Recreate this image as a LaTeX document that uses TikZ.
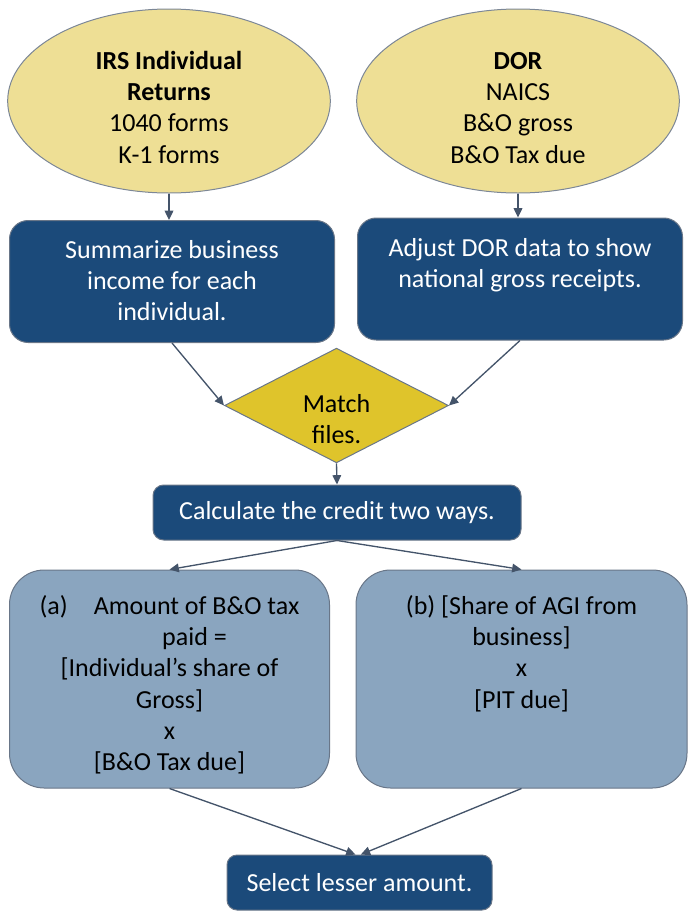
\documentclass[tikz,border=0pt]{standalone}
\usepackage{fontspec}
\setmainfont{Carlito}
\usetikzlibrary{shapes.geometric,arrows.meta}
\definecolor{srcfill}{HTML}{EEDF95}
\definecolor{stepfill}{HTML}{1B4A7A}
\definecolor{matchfill}{HTML}{DFC42B}
\definecolor{wayfill}{HTML}{8AA5BF}
\definecolor{edgegray}{HTML}{44546A}
\newcommand{\toptext}[4]{\parbox[c][#1][t]{#2}{\centering\rule{0pt}{#3}#4}}
\tikzstyle{every node}=[font=\fontsize{19.5}{23.4}\selectfont, align=center, inner sep=0pt]
\tikzset{source/.style={ellipse, draw=edgegray!70, line width=0.75pt, fill=srcfill,
      inner ysep=-5pt, minimum width=242pt, minimum height=138pt}}
\tikzset{stepbox/.style={rectangle, draw=edgegray!80, line width=0.75pt, fill=stepfill, text=white}}
\tikzset{waybox/.style={rectangle, draw=edgegray!80, line width=0.75pt, fill=wayfill, rounded corners=26pt}}
\tikzset{matchbox/.style={diamond, draw=edgegray!80, line width=0.75pt, fill=matchfill,
      minimum width=168pt, minimum height=86pt}}
\tikzset{flow/.style={-{Triangle[length=7pt,width=6.5pt]}, draw=edgegray, line width=1pt}}

\begin{document}
\begin{tikzpicture}[x=0.75pt,y=-0.75pt]
    \useasboundingbox (0,0) rectangle (689,911);

    \node[source] (irs) at (169,101)
      {\rule{0pt}{23pt}\textbf{IRS Individual}\\\textbf{Returns}\\1040 forms\\K-1 forms};
    \node[source] (dor) at (518,101)
      {\rule{0pt}{23pt}\textbf{DOR}\\NAICS\\B\&O gross\\B\&O Tax due};

    \node[stepbox, rounded corners=14pt] (summ) at (172,281.5)
      {\toptext{91.5pt}{243.75pt}{28.5pt}{Summarize business\\income for each\\individual.}};
    \node[stepbox, rounded corners=14pt] (adj) at (520,279)
      {\toptext{91.5pt}{243.75pt}{28.5pt}{Adjust DOR data to show\\national gross receipts.}};

    \node[matchbox] (match) at (336.5,405.5) {};
    \node (matchlbl) at (336.5,419) {Match\\files.};

    \node[stepbox, rounded corners=8pt, minimum width=276pt, minimum height=41.25pt] (calc) at (337,512.5)
      {Calculate the credit two ways.};

    \node[waybox] (wayA) at (169.5,679)
      {\toptext{163.5pt}{240pt}{33.3pt}{(a)\quad Amount of B\&O tax\\\hspace*{37.5pt}paid =\\{[}Individual’s share of\\Gross]\\x\\{[}B\&O Tax due]}};
    \node[waybox] (wayB) at (521.5,679)
      {\toptext{163.5pt}{248.25pt}{33.3pt}{(b) [Share of AGI from\\business]\\x\\{[}PIT due]}};

    \node[stepbox, rounded corners=7.5pt, minimum width=198.75pt, minimum height=41.25pt] (pick) at (359.5,882.5)
      {Select lesser amount.};

    \draw[flow] (irs.south) -- (irs.south |- summ.north);
    \draw[flow] (dor.south) -- (dor.south |- adj.north);
    \draw[flow] (summ.south) -- (match.west);
    \draw[flow] (adj.south) -- (match.east);
    \draw[flow] (match.south) -- (calc.north);
    \draw[flow] (calc.south) -- (wayA.north);
    \draw[flow] (calc.south) -- (wayB.north);
    \draw[flow] (wayA.south) -- ([xshift=-3pt]pick.north);
    \draw[flow] (wayB.south) -- ([xshift=1pt]pick.north);
\end{tikzpicture}
\end{document}
